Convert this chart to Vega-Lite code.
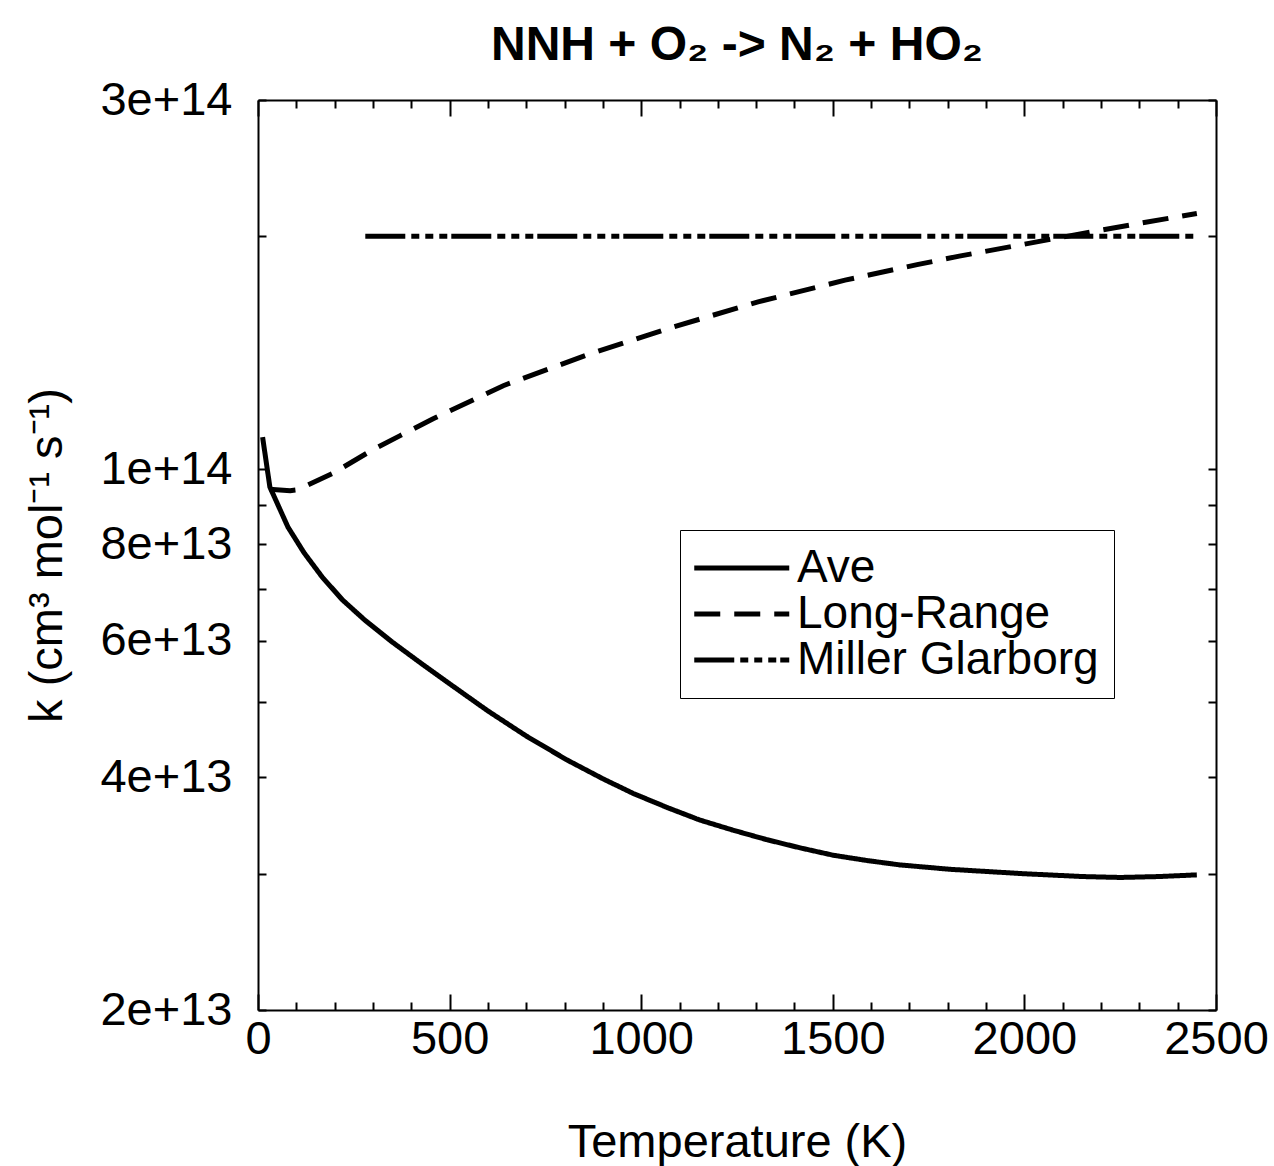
{
  "$schema": "https://vega.github.io/schema/vega-lite/v6.json",
  "width": 958,
  "height": 910,
  "autosize": "none",
  "padding": {"left": 258, "top": 100, "right": 58, "bottom": 156},
  "background": "white",
  "config": {"font": "Liberation Sans", "view": {"stroke": null}},
  "title": {"text": "NNH + O₂ -> N₂ + HO₂", "fontSize": 48, "fontWeight": "bold", "font": "Liberation Sans", "anchor": "middle", "offset": 6, "color": "black"},
  "data": {"values": [
    {"series": "Ave", "T": 12, "k": 1.1e14},
    {"series": "Ave", "T": 31, "k": 9.48e13},
    {"series": "Ave", "T": 40, "k": 9.27e13},
    {"series": "Ave", "T": 78, "k": 8.42e13},
    {"series": "Ave", "T": 120, "k": 7.8e13},
    {"series": "Ave", "T": 167, "k": 7.26e13},
    {"series": "Ave", "T": 220, "k": 6.78e13},
    {"series": "Ave", "T": 279, "k": 6.38e13},
    {"series": "Ave", "T": 350, "k": 5.98e13},
    {"series": "Ave", "T": 428, "k": 5.6e13},
    {"series": "Ave", "T": 500, "k": 5.28e13},
    {"series": "Ave", "T": 600, "k": 4.87e13},
    {"series": "Ave", "T": 700, "k": 4.52e13},
    {"series": "Ave", "T": 806, "k": 4.21e13},
    {"series": "Ave", "T": 900, "k": 3.98e13},
    {"series": "Ave", "T": 979, "k": 3.81e13},
    {"series": "Ave", "T": 1070, "k": 3.65e13},
    {"series": "Ave", "T": 1153, "k": 3.52e13},
    {"series": "Ave", "T": 1240, "k": 3.415e13},
    {"series": "Ave", "T": 1328, "k": 3.32e13},
    {"series": "Ave", "T": 1415, "k": 3.24e13},
    {"series": "Ave", "T": 1501, "k": 3.17e13},
    {"series": "Ave", "T": 1590, "k": 3.12e13},
    {"series": "Ave", "T": 1675, "k": 3.08e13},
    {"series": "Ave", "T": 1806, "k": 3.04e13},
    {"series": "Ave", "T": 2000, "k": 3.0e13},
    {"series": "Ave", "T": 2153, "k": 2.975e13},
    {"series": "Ave", "T": 2250, "k": 2.967e13},
    {"series": "Ave", "T": 2350, "k": 2.975e13},
    {"series": "Ave", "T": 2450, "k": 2.99e13},
    {"series": "Long-Range", "T": 30, "k": 9.42e13},
    {"series": "Long-Range", "T": 84, "k": 9.38e13},
    {"series": "Long-Range", "T": 100, "k": 9.4e13},
    {"series": "Long-Range", "T": 128, "k": 9.53e13},
    {"series": "Long-Range", "T": 196, "k": 9.88e13},
    {"series": "Long-Range", "T": 300, "k": 1.06e14},
    {"series": "Long-Range", "T": 371, "k": 1.105e14},
    {"series": "Long-Range", "T": 457, "k": 1.162e14},
    {"series": "Long-Range", "T": 640, "k": 1.282e14},
    {"series": "Long-Range", "T": 858, "k": 1.405e14},
    {"series": "Long-Range", "T": 1084, "k": 1.527e14},
    {"series": "Long-Range", "T": 1305, "k": 1.645e14},
    {"series": "Long-Range", "T": 1532, "k": 1.755e14},
    {"series": "Long-Range", "T": 1720, "k": 1.838e14},
    {"series": "Long-Range", "T": 1830, "k": 1.885e14},
    {"series": "Long-Range", "T": 2100, "k": 1.995e14},
    {"series": "Long-Range", "T": 2280, "k": 2.07e14},
    {"series": "Long-Range", "T": 2450, "k": 2.14e14},
    {"series": "Miller Glarborg", "T": 280, "k": 2.0e14},
    {"series": "Miller Glarborg", "T": 2450, "k": 2.0e14}
  ]},
  "layer": [
    {
      "mark": {"type": "line", "strokeWidth": 5, "color": "black", "strokeCap": "butt", "clip": true},
      "encoding": {
        "x": {"field": "T", "type": "quantitative",
          "scale": {"domain": [0, 2500], "nice": false, "zero": false},
          "axis": {"orient": "bottom", "values": [0,100,200,300,400,500,600,700,800,900,1000,1100,1200,1300,1400,1500,1600,1700,1800,1900,2000,2100,2200,2300,2400,2500],
            "labelExpr": "datum.value % 500 === 0 ? format(datum.value, 'd') : ''",
            "tickSize": {"condition": {"test": "datum.value % 500 === 0", "value": -16}, "value": -8},
            "tickColor": "black", "tickWidth": 2, "domainColor": "black", "domainWidth": 2,
            "labelFontSize": 47, "labelColor": "black", "labelPadding": 22, "labelFlush": false, "labelOverlap": false,
            "title": "Temperature (K)", "titleFontSize": 47, "titleFontWeight": "normal", "titleColor": "black", "titlePadding": 49, "grid": false}},
        "y": {"field": "k", "type": "quantitative",
          "scale": {"type": "log", "domain": [2e13, 3e14], "nice": false},
          "axis": {"orient": "left", "values": [2e13,3e13,4e13,5e13,6e13,7e13,8e13,9e13,1e14,2e14,3e14],
            "labelExpr": "indexof([2e13,4e13,6e13,8e13,1e14,3e14], datum.value) >= 0 ? format(datum.value, '.0e') : ''",
            "tickSize": -8, "tickColor": "black", "tickWidth": 2, "domainColor": "black", "domainWidth": 2,
            "labelFontSize": 47, "labelColor": "black", "labelPadding": 34, "labelOverlap": false, "labelFlush": false,
            "title": "k (cm³ mol⁻¹ s⁻¹)", "titleFontSize": 47, "titleFontWeight": "normal", "titleColor": "black", "titlePadding": 28, "grid": false}},
        "strokeDash": {"field": "series", "type": "nominal",
          "scale": {"domain": ["Ave", "Long-Range", "Miller Glarborg"], "range": [[1, 0], [26, 14], [40, 6, 8, 6, 8, 6, 8, 4]]},
          "legend": {"orient": "none", "legendX": 422, "legendY": 430, "title": null,
            "symbolType": "M-2.5,0H7.5", "symbolSize": 361, "symbolStrokeWidth": 5, "symbolStrokeColor": "black", "symbolFillColor": "transparent",
            "labelFontSize": 46, "labelColor": "black", "labelOffset": 56, "labelLimit": 600,
            "strokeColor": "black", "padding": 15, "fillColor": "white", "rowPadding": 0}}
      }
    },
    {
      "mark": {"type": "point", "opacity": 0, "size": 0},
      "encoding": {
        "x": {"field": "T", "type": "quantitative",
          "axis": {"orient": "top", "values": [0,100,200,300,400,500,600,700,800,900,1000,1100,1200,1300,1400,1500,1600,1700,1800,1900,2000,2100,2200,2300,2400,2500],
            "labels": false, "title": null,
            "tickSize": {"condition": {"test": "datum.value % 500 === 0", "value": -16}, "value": -8},
            "tickColor": "black", "tickWidth": 2, "domainColor": "black", "domainWidth": 2, "grid": false}},
        "y": {"field": "k", "type": "quantitative",
          "axis": {"orient": "right", "values": [2e13,3e13,4e13,5e13,6e13,7e13,8e13,9e13,1e14,2e14,3e14],
            "labels": false, "title": null, "tickSize": -8, "tickColor": "black", "tickWidth": 2,
            "domainColor": "black", "domainWidth": 2, "grid": false}}
      }
    }
  ],
  "resolve": {"axis": {"x": "independent", "y": "independent"}}
}
